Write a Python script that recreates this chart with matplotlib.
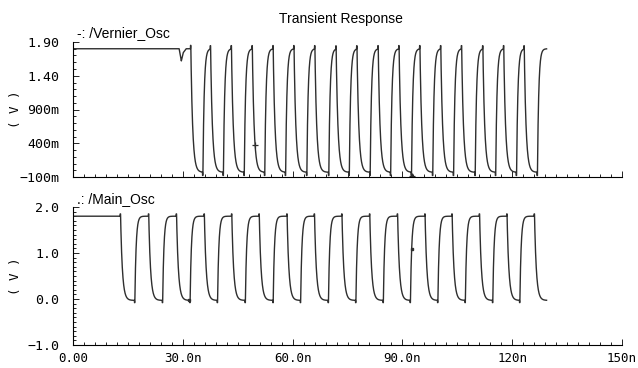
import numpy as np
import matplotlib
matplotlib.use("Agg")
import matplotlib.pyplot as plt
from matplotlib.ticker import MultipleLocator

# edge start times (ns)
vernier_rise = [35.5, 41.1, 46.8, 52.4, 58.1, 63.9, 69.9, 75.5, 81.2, 86.8,
                92.5, 98.3, 104.0, 109.9, 115.5, 121.2, 126.9]
vernier_fall = [32.2, 37.6, 43.3, 49.0, 54.7, 60.4, 66.1, 71.9, 77.6, 83.4,
                89.1, 94.8, 100.5, 106.2, 112.0, 117.7, 123.3]
main_rise = [16.9, 24.5, 32.0, 39.5, 47.1, 54.7, 62.2, 69.8, 77.3, 84.8,
             92.2, 99.7, 107.2, 114.7, 122.1]
main_fall = [13.0, 20.7, 28.3, 35.9, 43.4, 50.9, 58.5, 66.0, 73.5, 81.1,
             88.7, 96.2, 103.6, 111.1, 118.6, 126.1]
v_high = 1.8
v_low = -0.03
t_stop = 129.4

# little glitch on the vernier line before it starts
dip_t = [29.0, 29.6, 30.1, 30.9]
dip_v = [0.0, -0.18, -0.06, 0.0]

# cursor marks left on the traces
vernier_mark_t = [49.7, 92.7]
vernier_mark_v = [0.38, -0.08]
main_mark_t = [92.5, 31.8]
main_mark_v = [1.09, -0.03]

x_ticks = [0, 30, 60, 90, 120, 150]
x_labels = ["0.00", "30.0n", "60.0n", "90.0n", "120n", "150n"]
top_ticks = [-0.1, 0.4, 0.9, 1.4, 1.9]
top_labels = ["\u2212100m", "400m", "900m", "1.40", "1.90"]
bot_ticks = [-1.0, 0.0, 1.0, 2.0]
bot_labels = ["\u22121.0", "0.0", "1.0", "2.0"]

MONO = ["DejaVu Sans Mono"]
SANS = ["Liberation Sans", "DejaVu Sans"]
LINE = "#2e2e2e"


def build(t, rises, falls, tau_r=0.35, tau_f=0.5, kick=0.05):
    edges = sorted([(x, v_high, tau_r) for x in rises] +
                   [(x, v_low, tau_f) for x in falls])
    v = np.full_like(t, v_high)
    cur = v_high
    for i, (t0, target, tau) in enumerate(edges):
        t1 = edges[i + 1][0] if i + 1 < len(edges) else t[-1] + 1
        m = (t >= t0) & (t < t1)
        v[m] = target + (cur - target) * np.exp(-(t[m] - t0) / tau)
        k = (t >= t0 - 0.12) & (t < t0)
        v[k] += kick if target < cur else -kick
        cur = target + (cur - target) * np.exp(-(t1 - t0) / tau)
    return v


t = np.arange(0, t_stop, 0.01)
vernier = build(t, vernier_rise, vernier_fall)
vernier += np.interp(t, dip_t, dip_v, left=0, right=0)
main = build(t, main_rise, main_fall)

fig = plt.figure(figsize=(6.38, 3.68), dpi=100)
ax1 = fig.add_axes([73 / 638, 1 - 177 / 368, 549 / 638, 135 / 368])
ax2 = fig.add_axes([73 / 638, 1 - 345 / 368, 549 / 638, 138 / 368])

ax1.plot(t, vernier, color=LINE, lw=1.0)
ax1.plot(vernier_mark_t, vernier_mark_v, "+", color=LINE, ms=5, mew=0.9)
ax2.plot(t, main, color=LINE, lw=1.0)
ax2.plot(main_mark_t, main_mark_v, "s", color=LINE, ms=2)

for ax, yt, yl, lim in [(ax1, top_ticks, top_labels, (-0.1, 1.9)),
                        (ax2, bot_ticks, bot_labels, (-1.0, 2.0))]:
    ax.set_xlim(0, 150)
    ax.set_ylim(*lim)
    for s in ["top", "right"]:
        ax.spines[s].set_visible(False)
    for s in ["left", "bottom"]:
        ax.spines[s].set_linewidth(0.8)
    ax.set_xticks(x_ticks)
    ax.xaxis.set_minor_locator(MultipleLocator(3))
    ax.set_yticks(yt)
    ax.set_yticklabels(yl, fontfamily=MONO, fontsize=9.5)
    ax.yaxis.set_minor_locator(MultipleLocator(0.1))
    ax.tick_params(which="both", direction="in", width=0.6)
    ax.tick_params(which="major", length=4)
    ax.tick_params(which="minor", length=2)
    ax.tick_params(axis="y", pad=10)
    ax.set_ylabel("( V )", fontfamily=MONO, fontsize=9)
    ax.yaxis.set_label_coords(-0.093, 0.5)

ax1.set_xticklabels([])
ax2.set_xticklabels(x_labels, fontfamily=MONO, fontsize=9)
ax2.tick_params(axis="x", pad=5)

fig.text(341 / 638, 1 - 19 / 368, "Transient Response", ha="center",
         va="center", fontfamily=SANS, fontsize=10)
fig.text(77 / 638, 1 - 33 / 368, "-: /Vernier_Osc", ha="left",
         va="center", fontfamily=SANS, fontsize=10)
fig.text(77 / 638, 1 - 199 / 368, ".: /Main_Osc", ha="left",
         va="center", fontfamily=SANS, fontsize=10)

fig.savefig("out.png", dpi=100)
